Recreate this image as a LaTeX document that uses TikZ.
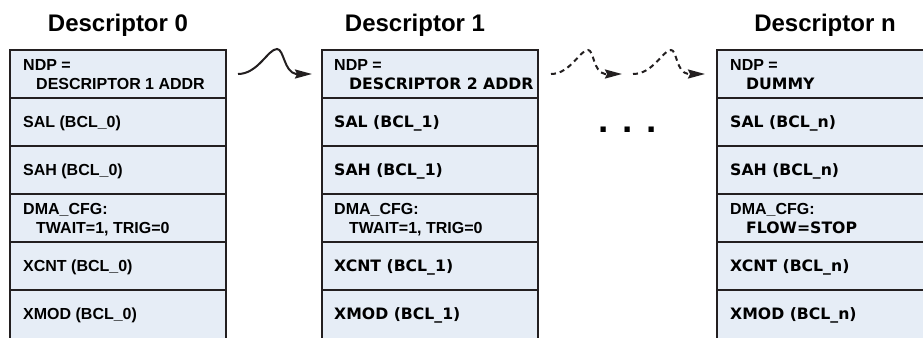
\documentclass[tikz,border=0pt]{standalone}
\usepackage{fontspec}
\newfontfamily\nf{Liberation Sans}
\newfontfamily\wf{DejaVu Sans}
\usetikzlibrary{calc,arrows.meta}
\definecolor{bordc}{HTML}{231F20}
\definecolor{cellc}{HTML}{E6EDF6}
\tikzset{
  cell/.style={draw=bordc, fill=cellc, line width=2.6bp, minimum width=216bp,
    minimum height=48bp, inner sep=0pt, outer sep=0pt, anchor=north west},
  txt/.style={inner sep=0pt, anchor=base west, text=black,
    font=\nf\bfseries\fontsize{16bp}{19bp}\selectfont},
  wtxt/.style={inner sep=0pt, anchor=base west, text=black,
    font=\wf\bfseries\fontsize{15.7bp}{19bp}\selectfont},
  ttl/.style={inner sep=0pt, anchor=base, text=black,
    font=\nf\bfseries\fontsize{24bp}{28bp}\selectfont},
  conn/.style={line width=2bp, draw=bordc, -{Stealth[length=17bp,width=9bp,inset=2bp]}},
  dconn/.style={conn, dash pattern=on 5bp off 4bp},
}
\begin{document}
\begin{tikzpicture}[x=1bp, y=-1bp]
\clip (0,0) rectangle (923,337);
\fill[white] (0,0) rectangle (923,337);
% titles
\node[ttl] (title0) at (118,31) {Descriptor 0};
\node[ttl] (title1) at (415,31) {Descriptor 1};
\node[ttl] (titlen) at (825,31) {Descriptor n};
% cells
\foreach \b/\xx in {0/10, 1/322, n/717} {
  \foreach \r in {0,...,4} {
    \node[cell] (b\b r\r) at (\xx, 50+48*\r) {};
  }
  \node[cell, minimum height=70bp] (b\b r5) at (\xx, 290) {};
}
% box 0 texts
\node[txt] (t00a) at ($(b0r0.north west)+(13,20)$) {NDP =};
\node[txt] (t00b) at ($(b0r0.north west)+(26,39)$) {DESCRIPTOR 1 ADDR};
\node[txt] (t01) at ($(b0r1.north west)+(13,29.5)$) {SAL (BCL\_0)};
\node[txt] (t02) at ($(b0r2.north west)+(13,29.5)$) {SAH (BCL\_0)};
\node[txt] (t03a) at ($(b0r3.north west)+(13,20)$) {DMA\_CFG:};
\node[txt] (t03b) at ($(b0r3.north west)+(26,39)$) {TWAIT=1, TRIG=0};
\node[txt] (t04) at ($(b0r4.north west)+(13,29.5)$) {XCNT (BCL\_0)};
\node[txt] (t05) at ($(b0r5.north west)+(13,29.5)$) {XMOD (BCL\_0)};
% box 1 texts
\node[txt] (t10a) at ($(b1r0.north west)+(12,20)$) {NDP =};
\node[wtxt] (t10b) at ($(b1r0.north west)+(27,39)$) {DESCRIPTOR 2 ADDR};
\node[wtxt] (t11) at ($(b1r1.north west)+(12,29.5)$) {SAL (BCL\_1)};
\node[wtxt] (t12) at ($(b1r2.north west)+(12,29.5)$) {SAH (BCL\_1)};
\node[txt] (t13a) at ($(b1r3.north west)+(12,20)$) {DMA\_CFG:};
\node[txt] (t13b) at ($(b1r3.north west)+(27,39)$) {TWAIT=1, TRIG=0};
\node[wtxt] (t14) at ($(b1r4.north west)+(12,29.5)$) {XCNT (BCL\_1)};
\node[wtxt] (t15) at ($(b1r5.north west)+(12,29.5)$) {XMOD (BCL\_1)};
% box n texts
\node[txt] (tn0a) at ($(bnr0.north west)+(13,20)$) {NDP =};
\node[wtxt] (tn0b) at ($(bnr0.north west)+(29,39)$) {DUMMY};
\node[wtxt] (tn1) at ($(bnr1.north west)+(13,29.5)$) {SAL (BCL\_n)};
\node[wtxt] (tn2) at ($(bnr2.north west)+(13,29.5)$) {SAH (BCL\_n)};
\node[txt] (tn3a) at ($(bnr3.north west)+(13,20)$) {DMA\_CFG:};
\node[wtxt] (tn3b) at ($(bnr3.north west)+(29,39)$) {FLOW=STOP};
\node[wtxt] (tn4) at ($(bnr4.north west)+(13,29.5)$) {XCNT (BCL\_n)};
\node[wtxt] (tn5) at ($(bnr5.north west)+(13,29.5)$) {XMOD (BCL\_n)};
% dots
\node[inner sep=0pt, anchor=base, font=\nf\bfseries\fontsize{37bp}{40bp}\selectfont] (dots) at (628,132) {. . .};
% connectors
\draw[conn, shorten >=10bp] ($(b0r0.east)+(12,0)$)
  .. controls (258,74) and (268,49) .. (277,49)
  .. controls (284,49) and (284,72) .. (296,74) -- (b1r0.west);
\coordinate (m1) at (622,74);
\coordinate (m2) at (633,74);
\draw[dconn] ($(b1r0.east)+(13,0)$)
  .. controls (570,74) and (580,50) .. (588,50)
  .. controls (594,50) and (593,72) .. (605,74) -- (m1);
\draw[dconn, shorten >=12bp] (m2)
  .. controls (653,74) and (663,50) .. (671,50)
  .. controls (677,50) and (676,72) .. (688,74) -- (bnr0.west);
\end{tikzpicture}
\end{document}
